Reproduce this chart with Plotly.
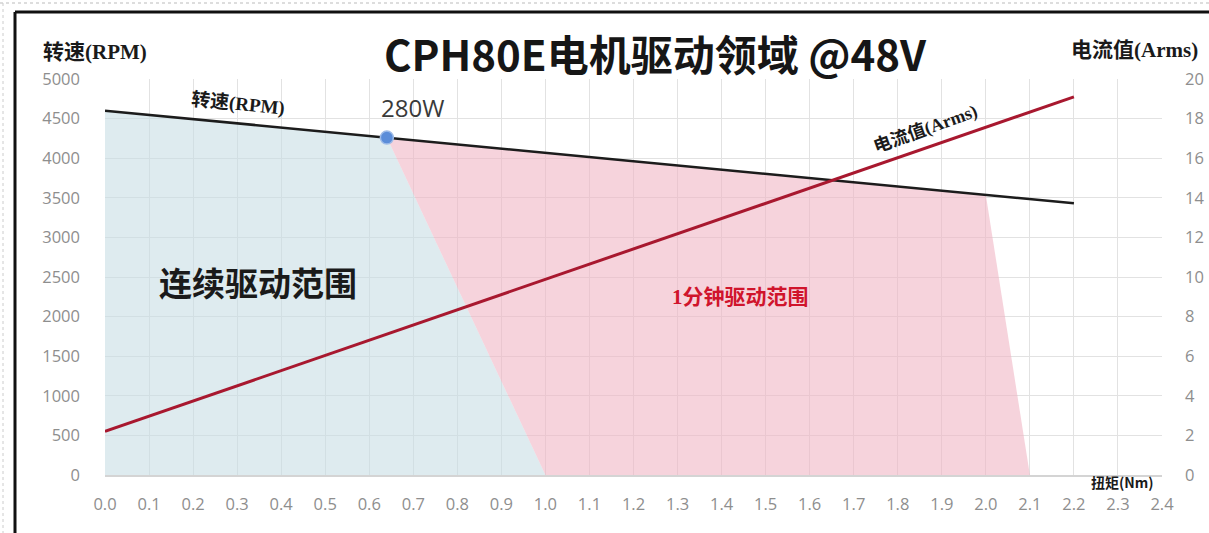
import plotly.graph_objects as go

# ---------------- data ----------------
torque_line = [0.0, 2.2]          # Nm
speed_rpm = [4600, 3430]          # RPM (left axis)
current_arms = [2.2, 19.1]        # Arms (right axis)

cont_torque = [0.0, 0.0, 0.64, 1.0]      # continuous drive region
cont_speed = [0, 4600, 4260, 0]

peak_torque = [0.64, 2.0, 2.1, 1.0]      # 1-minute drive region
peak_speed = [4260, 3536, 0, 0]

point_torque = [0.64]
point_speed = [4260]
point_label = ["280W"]

x_tickvals = [0.0, 0.1, 0.2, 0.3, 0.4, 0.5, 0.6, 0.7, 0.8, 0.9, 1.0, 1.1, 1.2,
              1.3, 1.4, 1.5, 1.6, 1.7, 1.8, 1.9, 2.0, 2.1, 2.2, 2.3, 2.4]
y_tickvals = [0, 500, 1000, 1500, 2000, 2500, 3000, 3500, 4000, 4500, 5000]
y2_tickvals = [0, 2, 4, 6, 8, 10, 12, 14, 16, 18, 20]

# ---------------- geometry helpers (pixels -> paper) ----------------
W, H = 1209, 533
L, R, T, B = 105, 47, 79, 58
PW, PH = W - L - R, H - T - B


def px(x):
    return (x - L) / PW


def py(y):
    return (H - B - y) / PH


TICK = dict(family="Open Sans, Noto Sans CJK SC", size=16.5, color="#8e8e8e")
SERIF_B = "Liberation Serif, Noto Sans CJK SC"

fig = go.Figure()

fig.add_trace(go.Scatter(x=cont_torque, y=cont_speed, fill="toself", mode="none",
                         fillcolor="rgba(200,222,228,0.6)", hoverinfo="skip", showlegend=False))
fig.add_trace(go.Scatter(x=peak_torque, y=peak_speed, fill="toself", mode="none",
                         fillcolor="rgba(240,180,194,0.58)", hoverinfo="skip", showlegend=False))
fig.add_trace(go.Scatter(x=torque_line, y=speed_rpm, mode="lines",
                         line=dict(color="#1c1c1c", width=2.5), showlegend=False))
fig.add_trace(go.Scatter(x=torque_line, y=current_arms, mode="lines", yaxis="y2",
                         line=dict(color="#a8182f", width=3), showlegend=False))
fig.add_trace(go.Scatter(x=point_torque, y=point_speed, mode="markers",
                         marker=dict(size=13, color="#5b8dd9", line=dict(color="#9dbbe8", width=1.5)),
                         showlegend=False))

fig.update_layout(
    width=W, height=H,
    margin=dict(l=L, r=R, t=T, b=B, autoexpand=False),
    paper_bgcolor="white", plot_bgcolor="white",
    title=dict(text="<b>CPH80E电机驱动领域 @48V</b>", x=655 / W, xanchor="center",
               y=1 - 56 / H, yanchor="middle", xref="container", yref="container",
               font=dict(family="Noto Sans CJK SC", size=42, color="#161616")),
    xaxis=dict(range=[0, 2.4], tickvals=x_tickvals, tickformat=".1f", automargin=False,
               showgrid=True, gridcolor="#e2e2e2", gridwidth=1,
               showline=True, linecolor="#d4d4d4", linewidth=2,
               zeroline=False, ticks="", tickfont=TICK, ticklabelstandoff=13),
    yaxis=dict(range=[0, 5000], tickvals=y_tickvals, automargin=False,
               showgrid=True, gridcolor="#e2e2e2", gridwidth=1,
               zeroline=False, showline=False, ticks="", tickfont=TICK,
               ticklabelstandoff=24),
    yaxis2=dict(range=[0, 20], tickvals=y2_tickvals, overlaying="y", side="right",
                automargin=False,
                showgrid=False, zeroline=False, showline=False, ticks="",
                tickfont=TICK, ticklabelstandoff=22),
)

ann = [
    dict(text="<b>转速(RPM)</b>", x=px(95), y=py(52), font=dict(family=SERIF_B, size=21, color="#1a1a1a")),
    dict(text="<b>电流值(Arms)</b>", x=px(1134), y=py(50), font=dict(family=SERIF_B, size=21, color="#1a1a1a")),
    dict(text="<b>转速(RPM)</b>", x=px(238), y=py(104), textangle=5.5,
         font=dict(family=SERIF_B, size=19, color="#1a1a1a")),
    dict(text="<b>电流值(Arms)</b>", x=px(925), y=py(129), textangle=-20,
         font=dict(family=SERIF_B, size=18, color="#1a1a1a")),
    dict(text="<b>连续驱动范围</b>", x=px(258), y=py(282),
         font=dict(family="Noto Sans CJK SC", size=33, color="#1a1a1a")),
    dict(text="<b>1分钟驱动范围</b>", x=px(740), y=py(297),
         font=dict(family=SERIF_B, size=21, color="#d0142c")),
    dict(text="<b>扭矩(Nm)</b>", x=px(1122), y=py(482),
         font=dict(family="Noto Sans CJK SC", size=14, color="#1a1a1a")),
]
for a in ann:
    a.update(xref="paper", yref="paper", showarrow=False, xanchor="center", yanchor="middle")
ann.append(dict(text=point_label[0], x=point_torque[0], y=point_speed[0], xref="x", yref="y",
                showarrow=False, xanchor="left", yanchor="bottom", xshift=-8, yshift=12,
                font=dict(family="Open Sans", size=24, color="#3a3a3a")))
fig.update_layout(annotations=ann)

# outer frame (black) and dotted top border
fig.update_layout(shapes=[
    dict(type="line", xref="paper", yref="paper", x0=px(15), x1=px(15), y0=py(12), y1=py(533),
         line=dict(color="#111111", width=3)),
    dict(type="line", xref="paper", yref="paper", x0=px(15), x1=px(1209), y0=py(12), y1=py(12),
         line=dict(color="#111111", width=3)),
    dict(type="line", xref="paper", yref="paper", x0=px(0), x1=px(1209), y0=py(3), y1=py(3),
         line=dict(color="#bbbbbb", width=1, dash="dot")),
    dict(type="line", xref="paper", yref="paper", x0=px(3), x1=px(3), y0=py(3), y1=py(533),
         line=dict(color="#cccccc", width=1, dash="dot")),
])

fig.write_html("out.html")
